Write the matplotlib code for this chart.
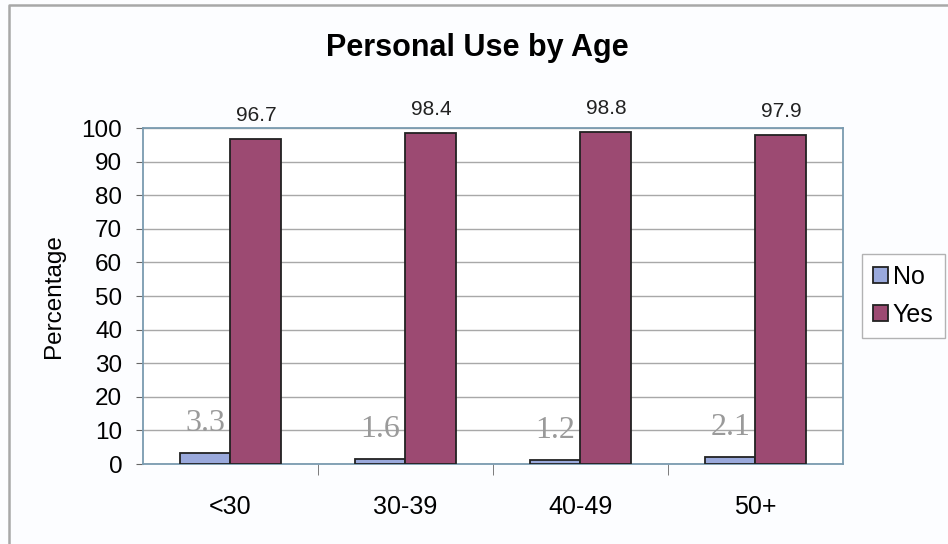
import matplotlib
matplotlib.use("Agg")
import matplotlib.pyplot as plt
from matplotlib.lines import Line2D
import numpy as np

categories = ["<30", "30-39", "40-49", "50+"]
no_values = [3.3, 1.6, 1.2, 2.1]
yes_values = [96.7, 98.4, 98.8, 97.9]
y_ticks = list(range(0, 101, 10))

no_color = "#9aa9dc"
yes_color = "#9c4a72"

plt.rcParams["font.family"] = ["Liberation Sans", "DejaVu Sans"]

fig = plt.figure(figsize=(9.48, 5.44), dpi=100)
fig.patch.set_facecolor("#fcfdff")
# chart frame: top and left edges
fig.lines.append(Line2D([0.009, 0.009, 1.0], [0.0, 0.991, 0.991], transform=fig.transFigure,
                        color="#a8a8a8", linewidth=1.8))

ax = fig.add_axes([0.1508, 0.147, 0.7384, 0.6177])
ax.set_facecolor("white")
x = np.arange(len(categories))
w = 0.29
b_no = ax.bar(x - w / 2, no_values, w, color=no_color, edgecolor="#222222", linewidth=1.3,
              label="No", zorder=3)
b_yes = ax.bar(x + w / 2, yes_values, w, color=yes_color, edgecolor="#222222", linewidth=1.3,
               label="Yes", zorder=3)

for xi, v in zip(x, no_values):
    ax.annotate(f"{v}", (xi - w / 2, v), xytext=(0, 21), textcoords="offset points",
                ha="center", va="center", fontsize=23, color="#9a9a9a",
                family=["Liberation Serif", "DejaVu Serif"])
for xi, v in zip(x, yes_values):
    ax.annotate(f"{v}", (xi + w / 2, v), xytext=(0, 17), textcoords="offset points",
                ha="center", va="center", fontsize=15, color="#222222")

ax.set_xlim(-0.5, len(categories) - 0.5)
ax.set_ylim(0, 100)
ax.set_yticks(y_ticks)
ax.set_xticks(x)
ax.set_xticklabels(categories)
ax.set_xticks(np.arange(0.5, len(categories) - 1, 1.0), minor=True)
ax.tick_params(axis="x", which="major", length=0, pad=22, labelsize=18)
ax.tick_params(axis="x", which="minor", length=8, color="#666666", direction="out")
ax.tick_params(axis="y", labelsize=17.5, length=5, color="#666666", pad=10)
ax.grid(axis="y", color="#a8a8a8", linewidth=1.0, zorder=0)
for side in ["left", "right", "top", "bottom"]:
    ax.spines[side].set_color("#7a9bb0")
    ax.spines[side].set_linewidth(1.3)

ax.set_ylabel("Percentage", fontsize=17.5, labelpad=12)
fig.text(0.503, 0.912, "Personal Use by Age", ha="center", va="center",
         fontsize=22, fontweight="bold")

leg = fig.legend(handles=[b_no, b_yes], loc="center left", bbox_to_anchor=(0.909, 0.456),
                 fontsize=18, frameon=True, fancybox=False, edgecolor="#a0a0a0",
                 handlelength=0.6, handleheight=0.6, handletextpad=0.2, borderpad=0.45,
                 labelspacing=0.55, borderaxespad=0)
leg.get_frame().set_linewidth(1.0)

fig.savefig("out.png", dpi=100, facecolor=fig.get_facecolor())
